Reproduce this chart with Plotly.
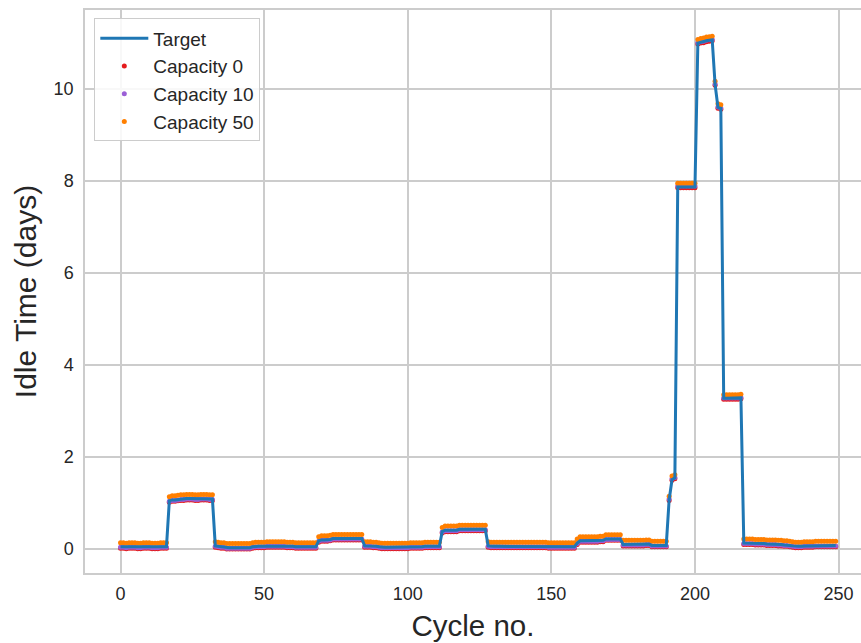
import plotly.graph_objects as go

cycles = list(range(250))

target = [
    0.04, 0.04, 0.03, 0.04, 0.04, 0.04, 0.03, 0.03, 0.04, 0.04,
    0.04, 0.03, 0.03, 0.03, 0.04, 0.04, 0.04, 1.04, 1.06, 1.06,
    1.07, 1.08, 1.08, 1.09, 1.09, 1.09, 1.08, 1.08, 1.09, 1.09,
    1.09, 1.08, 1.08, 0.06, 0.05, 0.04, 0.04, 0.02, 0.02, 0.02,
    0.02, 0.02, 0.02, 0.02, 0.02, 0.02, 0.04, 0.05, 0.05, 0.05,
    0.05, 0.06, 0.06, 0.06, 0.06, 0.06, 0.06, 0.06, 0.05, 0.05,
    0.05, 0.04, 0.04, 0.04, 0.04, 0.04, 0.04, 0.04, 0.04, 0.17,
    0.19, 0.19, 0.19, 0.20, 0.22, 0.22, 0.22, 0.22, 0.22, 0.22,
    0.22, 0.22, 0.22, 0.22, 0.22, 0.06, 0.06, 0.06, 0.05, 0.05,
    0.04, 0.03, 0.03, 0.03, 0.03, 0.03, 0.03, 0.03, 0.03, 0.03,
    0.03, 0.04, 0.04, 0.04, 0.04, 0.04, 0.05, 0.05, 0.05, 0.05,
    0.05, 0.05, 0.37, 0.40, 0.40, 0.40, 0.40, 0.40, 0.42, 0.42,
    0.42, 0.42, 0.42, 0.42, 0.42, 0.42, 0.42, 0.42, 0.06, 0.05,
    0.05, 0.05, 0.05, 0.05, 0.05, 0.05, 0.05, 0.05, 0.05, 0.05,
    0.05, 0.05, 0.05, 0.05, 0.05, 0.05, 0.05, 0.05, 0.05, 0.04,
    0.04, 0.04, 0.04, 0.04, 0.04, 0.04, 0.04, 0.04, 0.04, 0.12,
    0.17, 0.17, 0.17, 0.17, 0.17, 0.17, 0.17, 0.18, 0.18, 0.21,
    0.21, 0.21, 0.21, 0.21, 0.21, 0.09, 0.09, 0.09, 0.09, 0.09,
    0.09, 0.09, 0.09, 0.10, 0.10, 0.07, 0.07, 0.07, 0.07, 0.07,
    0.07, 1.06, 1.50, 1.54, 7.87, 7.87, 7.87, 7.87, 7.87, 7.87,
    7.87, 11.00, 11.02, 11.03, 11.05, 11.06, 11.07, 10.10, 9.60, 9.58,
    3.27, 3.27, 3.27, 3.27, 3.27, 3.27, 3.28, 0.12, 0.12, 0.12,
    0.12, 0.11, 0.11, 0.11, 0.11, 0.10, 0.10, 0.10, 0.10, 0.09,
    0.09, 0.08, 0.08, 0.07, 0.06, 0.05, 0.05, 0.05, 0.06, 0.06,
    0.06, 0.06, 0.07, 0.07, 0.07, 0.07, 0.07, 0.07, 0.07, 0.07,
]

capacity_0 = [
    0.01, 0.01, 0.00, 0.01, 0.01, 0.01, 0.00, 0.00, 0.01, 0.01,
    0.01, 0.00, 0.00, 0.00, 0.01, 0.01, 0.01, 1.01, 1.03, 1.03,
    1.04, 1.05, 1.05, 1.06, 1.06, 1.06, 1.05, 1.05, 1.06, 1.06,
    1.06, 1.05, 1.05, 0.03, 0.02, 0.01, 0.01, -0.01, -0.01, -0.01,
    -0.01, -0.01, -0.01, -0.01, -0.01, -0.01, 0.01, 0.02, 0.02, 0.02,
    0.02, 0.03, 0.03, 0.03, 0.03, 0.03, 0.03, 0.03, 0.02, 0.02,
    0.02, 0.01, 0.01, 0.01, 0.01, 0.01, 0.01, 0.01, 0.01, 0.14,
    0.16, 0.16, 0.16, 0.17, 0.19, 0.19, 0.19, 0.19, 0.19, 0.19,
    0.19, 0.19, 0.19, 0.19, 0.19, 0.03, 0.03, 0.03, 0.02, 0.02,
    0.01, 0.00, 0.00, 0.00, 0.00, 0.00, 0.00, 0.00, 0.00, 0.00,
    0.00, 0.01, 0.01, 0.01, 0.01, 0.01, 0.02, 0.02, 0.02, 0.02,
    0.02, 0.02, 0.34, 0.37, 0.37, 0.37, 0.37, 0.37, 0.39, 0.39,
    0.39, 0.39, 0.39, 0.39, 0.39, 0.39, 0.39, 0.39, 0.03, 0.02,
    0.02, 0.02, 0.02, 0.02, 0.02, 0.02, 0.02, 0.02, 0.02, 0.02,
    0.02, 0.02, 0.02, 0.02, 0.02, 0.02, 0.02, 0.02, 0.02, 0.01,
    0.01, 0.01, 0.01, 0.01, 0.01, 0.01, 0.01, 0.01, 0.01, 0.09,
    0.14, 0.14, 0.14, 0.14, 0.14, 0.14, 0.14, 0.15, 0.15, 0.18,
    0.18, 0.18, 0.18, 0.18, 0.18, 0.06, 0.06, 0.06, 0.06, 0.06,
    0.06, 0.06, 0.06, 0.07, 0.07, 0.04, 0.04, 0.04, 0.04, 0.04,
    0.04, 1.05, 1.49, 1.52, 7.85, 7.85, 7.85, 7.85, 7.85, 7.85,
    7.85, 10.98, 11.00, 11.01, 11.03, 11.04, 11.05, 10.08, 9.58, 9.56,
    3.25, 3.25, 3.25, 3.25, 3.25, 3.25, 3.26, 0.09, 0.09, 0.09,
    0.09, 0.08, 0.08, 0.08, 0.08, 0.07, 0.07, 0.07, 0.07, 0.06,
    0.06, 0.05, 0.05, 0.04, 0.03, 0.02, 0.02, 0.02, 0.03, 0.03,
    0.03, 0.03, 0.04, 0.04, 0.04, 0.04, 0.04, 0.04, 0.04, 0.04,
]

capacity_10 = [
    0.03, 0.03, 0.02, 0.03, 0.03, 0.03, 0.02, 0.02, 0.03, 0.03,
    0.03, 0.02, 0.02, 0.02, 0.03, 0.03, 0.03, 1.03, 1.05, 1.05,
    1.06, 1.07, 1.07, 1.08, 1.08, 1.08, 1.07, 1.07, 1.08, 1.08,
    1.08, 1.07, 1.07, 0.05, 0.04, 0.03, 0.03, 0.01, 0.01, 0.01,
    0.01, 0.01, 0.01, 0.01, 0.01, 0.01, 0.03, 0.04, 0.04, 0.04,
    0.04, 0.05, 0.05, 0.05, 0.05, 0.05, 0.05, 0.05, 0.04, 0.04,
    0.04, 0.03, 0.03, 0.03, 0.03, 0.03, 0.03, 0.03, 0.03, 0.16,
    0.18, 0.18, 0.18, 0.19, 0.21, 0.21, 0.21, 0.21, 0.21, 0.21,
    0.21, 0.21, 0.21, 0.21, 0.21, 0.05, 0.05, 0.05, 0.04, 0.04,
    0.03, 0.02, 0.02, 0.02, 0.02, 0.02, 0.02, 0.02, 0.02, 0.02,
    0.02, 0.03, 0.03, 0.03, 0.03, 0.03, 0.04, 0.04, 0.04, 0.04,
    0.04, 0.04, 0.36, 0.39, 0.39, 0.39, 0.39, 0.39, 0.41, 0.41,
    0.41, 0.41, 0.41, 0.41, 0.41, 0.41, 0.41, 0.41, 0.05, 0.04,
    0.04, 0.04, 0.04, 0.04, 0.04, 0.04, 0.04, 0.04, 0.04, 0.04,
    0.04, 0.04, 0.04, 0.04, 0.04, 0.04, 0.04, 0.04, 0.04, 0.03,
    0.03, 0.03, 0.03, 0.03, 0.03, 0.03, 0.03, 0.03, 0.03, 0.11,
    0.16, 0.16, 0.16, 0.16, 0.16, 0.16, 0.16, 0.17, 0.17, 0.20,
    0.20, 0.20, 0.20, 0.20, 0.20, 0.08, 0.08, 0.08, 0.08, 0.08,
    0.08, 0.08, 0.08, 0.09, 0.09, 0.06, 0.06, 0.06, 0.06, 0.06,
    0.06, 1.08, 1.52, 1.55, 7.89, 7.89, 7.89, 7.89, 7.89, 7.89,
    7.89, 11.01, 11.03, 11.04, 11.06, 11.07, 11.08, 10.11, 9.61, 9.59,
    3.28, 3.28, 3.28, 3.28, 3.28, 3.28, 3.29, 0.11, 0.11, 0.11,
    0.11, 0.10, 0.10, 0.10, 0.10, 0.09, 0.09, 0.09, 0.09, 0.08,
    0.08, 0.07, 0.07, 0.06, 0.05, 0.04, 0.04, 0.04, 0.05, 0.05,
    0.05, 0.05, 0.06, 0.06, 0.06, 0.06, 0.06, 0.06, 0.06, 0.06,
]

capacity_50 = [
    0.13, 0.13, 0.12, 0.13, 0.13, 0.13, 0.12, 0.12, 0.13, 0.13,
    0.13, 0.12, 0.12, 0.12, 0.13, 0.13, 0.13, 1.13, 1.15, 1.15,
    1.16, 1.17, 1.17, 1.18, 1.18, 1.18, 1.17, 1.17, 1.18, 1.18,
    1.18, 1.17, 1.17, 0.15, 0.14, 0.13, 0.13, 0.11, 0.11, 0.11,
    0.11, 0.11, 0.11, 0.11, 0.11, 0.11, 0.13, 0.14, 0.14, 0.14,
    0.14, 0.15, 0.15, 0.15, 0.15, 0.15, 0.15, 0.15, 0.14, 0.14,
    0.14, 0.13, 0.13, 0.13, 0.13, 0.13, 0.13, 0.13, 0.13, 0.26,
    0.28, 0.28, 0.28, 0.29, 0.31, 0.31, 0.31, 0.31, 0.31, 0.31,
    0.31, 0.31, 0.31, 0.31, 0.31, 0.15, 0.15, 0.15, 0.14, 0.14,
    0.13, 0.12, 0.12, 0.12, 0.12, 0.12, 0.12, 0.12, 0.12, 0.12,
    0.12, 0.13, 0.13, 0.13, 0.13, 0.13, 0.14, 0.14, 0.14, 0.14,
    0.14, 0.14, 0.46, 0.49, 0.49, 0.49, 0.49, 0.49, 0.51, 0.51,
    0.51, 0.51, 0.51, 0.51, 0.51, 0.51, 0.51, 0.51, 0.15, 0.14,
    0.14, 0.14, 0.14, 0.14, 0.14, 0.14, 0.14, 0.14, 0.14, 0.14,
    0.14, 0.14, 0.14, 0.14, 0.14, 0.14, 0.14, 0.14, 0.14, 0.13,
    0.13, 0.13, 0.13, 0.13, 0.13, 0.13, 0.13, 0.13, 0.13, 0.21,
    0.26, 0.26, 0.26, 0.26, 0.26, 0.26, 0.26, 0.27, 0.27, 0.30,
    0.30, 0.30, 0.30, 0.30, 0.30, 0.18, 0.18, 0.18, 0.18, 0.18,
    0.18, 0.18, 0.18, 0.19, 0.19, 0.16, 0.16, 0.16, 0.16, 0.16,
    0.16, 1.14, 1.58, 1.61, 7.95, 7.95, 7.95, 7.95, 7.95, 7.95,
    7.95, 11.08, 11.10, 11.11, 11.13, 11.14, 11.15, 10.17, 9.68, 9.66,
    3.35, 3.35, 3.35, 3.35, 3.35, 3.35, 3.36, 0.21, 0.21, 0.21,
    0.21, 0.20, 0.20, 0.20, 0.20, 0.19, 0.19, 0.19, 0.19, 0.18,
    0.18, 0.17, 0.17, 0.16, 0.15, 0.14, 0.14, 0.14, 0.15, 0.15,
    0.15, 0.15, 0.16, 0.16, 0.16, 0.16, 0.16, 0.16, 0.16, 0.16,
]

x_ticks = [0, 50, 100, 150, 200, 250]
y_ticks = [0, 2, 4, 6, 8, 10]

FONT = "Liberation Sans, Arial, sans-serif"
TXT = "#262626"
GRID = "#cccccc"

fig = go.Figure()

for name, vals, col, rank in [
    ("Capacity 0", capacity_0, "#e41a1c", 2),
    ("Capacity 10", capacity_10, "#9b5fd6", 3),
    ("Capacity 50", capacity_50, "#ff7f00", 4),
]:
    fig.add_trace(go.Scatter(
        x=cycles, y=vals, mode="markers", name=name, legendrank=rank,
        marker=dict(color=col, size=5, line=dict(width=0)),
    ))

fig.add_trace(go.Scatter(
    x=cycles, y=target, mode="lines", name="Target", legendrank=1,
    line=dict(color="#1f77b4", width=3),
))

fig.update_layout(
    width=861, height=643,
    margin=dict(l=85, r=0, t=10, b=70),
    paper_bgcolor="white", plot_bgcolor="white",
    font=dict(family=FONT, color=TXT, size=18),
    showlegend=True,
    legend=dict(
        x=0.012, y=0.985, xanchor="left", yanchor="top",
        bgcolor="rgba(255,255,255,0.85)", bordercolor=GRID, borderwidth=1,
        font=dict(family=FONT, size=19, color=TXT),
        itemwidth=48, tracegroupgap=0,
    ),
)

fig.update_xaxes(
    range=[-12.36, 257.8], tickvals=x_ticks, ticktext=[str(v) for v in x_ticks],
    showgrid=True, gridcolor=GRID, gridwidth=1.5,
    showline=True, linecolor=GRID, linewidth=1.5, mirror=True,
    zeroline=False, ticks="", ticklen=0, ticklabelstandoff=4,
    tickfont=dict(family=FONT, size=18, color=TXT),
    title=dict(text="Cycle no.", font=dict(family=FONT, size=29.5, color=TXT), standoff=12),
)
fig.update_yaxes(
    range=[-0.53, 11.72], tickvals=y_ticks, ticktext=[str(v) for v in y_ticks],
    showgrid=True, gridcolor=GRID, gridwidth=1.5,
    showline=True, linecolor=GRID, linewidth=1.5, mirror=False,
    zeroline=False, ticks="", ticklen=0, ticklabelstandoff=6,
    tickfont=dict(family=FONT, size=18, color=TXT),
    title=dict(text="Idle Time (days)", font=dict(family=FONT, size=30, color=TXT), standoff=8),
)

fig.write_html("out.html")
